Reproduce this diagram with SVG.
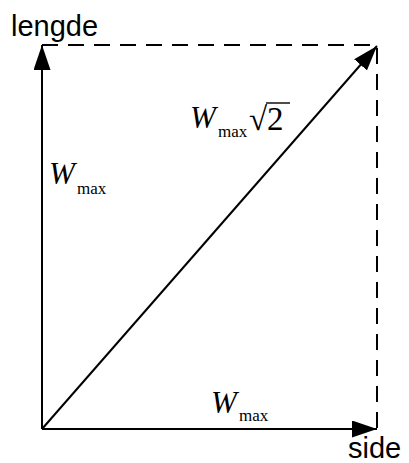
<svg xmlns="http://www.w3.org/2000/svg" width="409" height="463" viewBox="0 0 409 463">
<style>
.ln{stroke:#000;stroke-width:2;fill:none}
.dash{stroke:#000;stroke-width:2;fill:none;stroke-dasharray:16 10}
.lab{font-family:"Liberation Sans",Arial,sans-serif;font-size:29px;fill:#000}
.w{font-family:"Liberation Serif","Times New Roman",serif;font-style:italic;font-size:31px;fill:#000}
.sub{font-family:"Liberation Serif","Times New Roman",serif;font-size:17px;fill:#000}
.rt{font-family:"Liberation Serif","Times New Roman",serif;font-size:33px;fill:#000}
</style>
<defs>
<marker id="ah" viewBox="0 0 25 17" refX="25" refY="8.5" markerWidth="25" markerHeight="17" markerUnits="userSpaceOnUse" orient="auto">
<path d="M0,0 L25,8.5 L0,17 Z" fill="#000"/>
</marker>
</defs>
<g id="connectors">
<path class="dash" d="M42,45 H377 V429"/>
<line class="ln" x1="42" y1="429" x2="42" y2="45" marker-end="url(#ah)"/>
<line class="ln" x1="42" y1="429" x2="377" y2="429" marker-end="url(#ah)"/>
<line class="ln" x1="42" y1="429" x2="377" y2="46" marker-end="url(#ah)"/>
</g>
<g id="label-lengde"><text class="lab" x="11" y="36">lengde</text></g>
<g id="label-side"><text class="lab" x="348" y="458">side</text></g>
<g id="label-wmax-left"><text class="w" x="49" y="184">W</text><text class="sub" x="77" y="194">max</text></g>
<g id="label-wmax-diag"><text class="w" x="190" y="128">W</text><text class="sub" x="218" y="137">max</text><text class="rt" x="249" y="130">√2</text><line x1="266" y1="103" x2="290" y2="103" stroke="#000" stroke-width="1.4"/></g>
<g id="label-wmax-bottom"><text class="w" x="211" y="413">W</text><text class="sub" x="239" y="421">max</text></g>
</svg>
